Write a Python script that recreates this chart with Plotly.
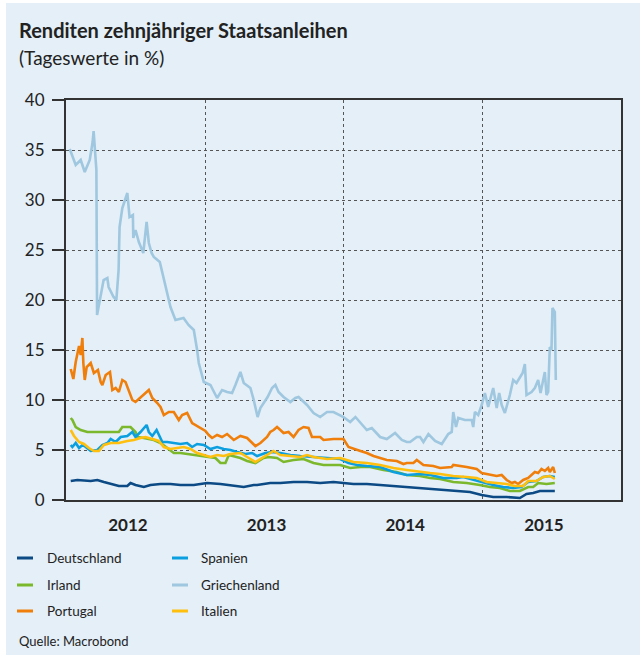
import plotly.graph_objects as go
import pandas as pd

# ---------------- data (x = years since 2012-01-01, y = yield in %) ----------------
GR_t = [0.027,0.048,0.070,0.106,0.135,0.171,0.192,0.199,0.219,0.224,0.250,0.271,0.298,0.307,0.343,0.363,0.379,0.386,0.406,0.424,
        0.442,0.458,0.482,0.485,0.501,0.525,0.557,0.581,0.597,0.617,0.633,0.676,0.694,0.729,0.753,0.789,0.847,0.883,0.921,0.945,
        0.957,0.993,1.041,1.089,1.125,1.161,1.197,1.221,1.257,1.281,1.329,1.353,1.381,1.401,1.453,1.485,1.509,1.532,1.568,1.617,
        1.653,1.676,1.737,1.784,1.832,1.881,1.928,2.000,2.048,2.086,2.122,2.168,2.204,2.264,2.312,2.372,2.420,2.456,2.480,2.528,
        2.552,2.576,2.612,2.660,2.708,2.755,2.780,2.791,2.811,2.827,2.875,2.924,2.935,2.947,2.971,2.996,3.019,3.043,3.079,3.104,
        3.122,3.140,3.163,3.199,3.223,3.247,3.291,3.307,3.319,3.355,3.379,3.403,3.420,3.451,3.463,3.475,3.487,3.499,3.506,3.523,
        3.530]
GR_v = [35.1,34.2,33.5,34.0,32.8,34.0,35.8,36.9,33.0,18.5,20.5,22.0,22.2,21.3,20.3,20.0,23.0,27.3,29.2,30.0,
        30.7,28.3,28.5,26.2,27.0,25.8,24.7,27.8,25.7,24.7,24.3,23.8,22.7,20.7,19.3,18.0,18.2,17.5,17.0,15.0,
        13.7,11.8,11.5,10.2,11.0,10.8,10.7,11.5,12.8,11.7,11.2,10.0,8.3,9.2,10.3,11.2,11.5,10.8,10.3,9.8,
        10.2,10.3,9.5,8.7,8.3,8.8,8.8,8.3,7.8,8.3,7.7,7.0,7.2,6.3,6.1,6.7,6.0,5.8,5.8,6.3,
        6.3,5.8,6.6,5.9,5.6,6.6,6.8,8.8,7.3,8.2,8.0,8.0,7.3,8.8,8.5,9.5,10.7,9.3,11.2,9.2,
        10.7,9.5,8.7,10.5,12.0,11.7,12.7,13.6,10.5,10.8,11.2,12.0,10.7,12.8,10.5,10.8,15.3,15.0,19.2,18.8,
        12.0]

PT_t = [0.034,0.053,0.070,0.082,0.094,0.106,0.118,0.125,0.135,0.149,0.178,0.201,0.230,0.250,0.262,0.286,0.317,0.334,0.358,0.381,
        0.406,0.429,0.453,0.478,0.501,0.537,0.573,0.597,0.622,0.658,0.681,0.705,0.741,0.777,0.813,0.837,0.873,0.909,0.933,0.969,
        1.005,1.029,1.053,1.089,1.125,1.161,1.209,1.257,1.305,1.365,1.401,1.449,1.472,1.496,1.521,1.545,1.568,1.604,1.640,1.676,
        1.712,1.748,1.773,1.832,1.856,1.928,2.000,2.036,2.072,2.122,2.168,2.216,2.264,2.312,2.384,2.432,2.456,2.504,2.528,2.576,
        2.647,2.696,2.780,2.791,2.888,2.960,2.996,3.043,3.104,3.140,3.176,3.212,3.235,3.259,3.295,3.331,3.355,3.379,3.403,3.427,
        3.451,3.475,3.487,3.511,3.523]
PT_v = [13.1,12.1,13.8,14.7,15.4,14.5,16.2,13.7,12.0,13.3,13.7,12.7,13.0,11.8,11.5,12.5,12.8,11.0,11.2,10.8,
        12.0,11.8,11.0,10.0,9.8,10.3,10.7,11.0,10.2,9.7,9.3,8.5,8.8,8.8,8.0,8.5,8.7,7.7,7.5,7.2,
        6.9,6.5,6.2,6.5,6.3,6.6,6.0,6.4,6.2,5.4,5.7,6.3,6.8,7.0,7.3,7.0,6.7,6.8,6.3,7.0,
        7.3,7.2,6.3,6.3,6.0,6.1,6.1,5.3,5.1,4.9,4.7,4.4,4.2,4.0,3.9,3.6,3.7,3.7,4.0,3.5,
        3.4,3.2,3.3,3.5,3.3,3.1,2.7,2.6,2.4,2.5,2.0,1.7,1.8,1.6,2.0,2.2,2.5,2.8,2.7,3.1,
        2.9,3.2,2.8,3.3,2.7]

ES_t = [0.034,0.046,0.070,0.094,0.118,0.142,0.178,0.226,0.262,0.298,0.322,0.358,0.394,0.442,0.478,0.501,0.537,0.561,0.581,0.597,
        0.622,0.653,0.676,0.694,0.729,0.777,0.825,0.873,0.909,0.945,0.993,1.041,1.089,1.137,1.185,1.233,1.293,1.341,1.377,1.437,
        1.485,1.545,1.617,1.689,1.784,1.881,1.976,2.036,2.098,2.168,2.264,2.360,2.456,2.552,2.624,2.719,2.816,2.863,2.935,2.996,
        3.079,3.151,3.223,3.283,3.331,3.391,3.439,3.487,3.523]
ES_v = [5.5,5.3,5.7,5.2,5.5,5.3,4.9,5.0,5.5,5.7,6.1,5.8,6.3,6.4,6.8,6.3,6.8,7.2,7.5,6.8,
        6.4,7.0,6.3,5.8,5.8,5.7,5.6,5.7,5.3,5.6,5.5,5.1,5.3,5.1,5.0,4.8,4.6,4.7,4.4,4.7,
        4.8,4.7,4.5,4.4,4.3,4.2,4.1,3.7,3.5,3.4,3.3,2.8,2.5,2.6,2.5,2.2,2.2,2.3,2.0,1.8,
        1.5,1.3,1.2,1.3,1.8,1.9,2.3,2.4,2.3]

IT_t = [0.034,0.058,0.094,0.129,0.165,0.201,0.237,0.273,0.322,0.381,0.442,0.489,0.537,0.573,0.622,0.669,0.705,0.753,0.801,0.849,
        0.897,0.945,0.993,1.041,1.089,1.137,1.185,1.257,1.305,1.365,1.424,1.496,1.545,1.617,1.689,1.737,1.784,1.881,1.976,2.072,
        2.168,2.264,2.360,2.456,2.552,2.624,2.696,2.791,2.888,2.960,3.032,3.104,3.176,3.235,3.295,3.331,3.391,3.439,3.487,3.523]
IT_v = [7.0,6.4,5.8,5.6,5.2,4.9,4.9,5.5,5.7,5.7,5.9,6.0,6.2,6.3,6.1,5.9,5.3,5.1,5.2,5.3,
        5.1,4.7,4.5,4.3,4.5,4.4,4.6,4.7,4.3,3.8,4.3,4.9,4.5,4.4,4.3,4.5,4.3,4.1,4.2,3.8,
        3.7,3.5,3.2,3.0,2.8,2.7,2.6,2.4,2.3,2.2,1.8,1.7,1.6,1.4,1.4,1.9,1.9,2.3,2.4,2.1]

IE_t = [0.034,0.046,0.070,0.106,0.154,0.381,0.406,0.465,0.501,0.514,0.561,0.633,0.681,0.729,0.777,0.825,0.873,0.921,0.969,1.041,
        1.077,1.113,1.149,1.173,1.257,1.305,1.365,1.424,1.460,1.521,1.568,1.640,1.712,1.784,1.856,1.976,2.048,2.122,2.192,2.288,
        2.384,2.456,2.552,2.624,2.696,2.791,2.888,2.983,3.055,3.127,3.199,3.271,3.331,3.367,3.403,3.463,3.523]
IE_v = [8.2,8.0,7.3,7.0,6.8,6.8,7.3,7.3,6.8,6.3,6.2,6.0,5.7,5.2,4.7,4.7,4.6,4.5,4.4,4.2,
        4.2,3.7,3.7,4.5,4.2,3.9,3.7,4.2,4.3,4.2,3.8,4.0,4.1,3.7,3.5,3.5,3.2,3.3,3.3,3.0,
        2.8,2.5,2.4,2.2,2.1,1.8,1.7,1.5,1.3,1.2,0.9,0.9,1.3,1.3,1.7,1.6,1.7]

DE_t = [0.034,0.082,0.178,0.226,0.273,0.322,0.381,0.442,0.465,0.501,0.561,0.609,0.681,0.753,0.825,0.921,1.017,1.113,1.185,1.281,
        1.353,1.377,1.472,1.545,1.640,1.737,1.832,1.928,2.072,2.168,2.264,2.360,2.456,2.552,2.624,2.719,2.816,2.912,2.996,3.079,
        3.176,3.271,3.319,3.367,3.415,3.463,3.523]
DE_v = [1.9,2.0,1.9,2.0,1.8,1.6,1.4,1.4,1.7,1.5,1.3,1.5,1.6,1.6,1.5,1.5,1.7,1.6,1.5,1.3,
        1.5,1.5,1.7,1.7,1.8,1.8,1.7,1.8,1.6,1.6,1.5,1.4,1.3,1.2,1.1,1.0,0.9,0.8,0.5,0.3,
        0.3,0.2,0.6,0.7,0.9,0.9,0.9]

YEAR_LABELS = ["2012", "2013", "2014", "2015"]
YEAR_LABEL_POS = ["2012-06-12", "2013-06-12", "2014-06-12", "2015-06-12"]
YEAR_BOUNDS = ["2013-01-01", "2014-01-01", "2015-01-01"]
Y_TICKS = [0, 5, 10, 15, 20, 25, 30, 35, 40]

SERIES = [  # name, t, v, color
    ("Griechenland", GR_t, GR_v, "#9fc7df"),
    ("Portugal", PT_t, PT_v, "#f07e0b"),
    ("Irland", IE_t, IE_v, "#7cb82c"),
    ("Spanien", ES_t, ES_v, "#0c9fe0"),
    ("Italien", IT_t, IT_v, "#ffbf0f"),
    ("Deutschland", DE_t, DE_v, "#0b4a84"),
]
COLORS = {n: c for n, _, _, c in SERIES}
LEGEND_ROWS = [("Deutschland", "Spanien"), ("Irland", "Griechenland"), ("Portugal", "Italien")]

BASE = pd.Timestamp("2012-01-01")


def to_dates(ts):
    return [BASE + pd.to_timedelta(t * 365.25, unit="D") for t in ts]


BG = "#e4eff7"
TXT = "#222222"
FONT = "Lato, Liberation Sans, sans-serif"

fig = go.Figure()
for name, t, v, color in SERIES:
    assert len(t) == len(v), name
    fig.add_trace(go.Scatter(x=to_dates(t), y=v, mode="lines", name=name,
                             line=dict(color=color, width=2.6), showlegend=False,
                             hoverinfo="skip"))

W, H = 640, 655
ML, MR, MT, MB = 66, 19, 100, 155
PW, PH = W - ML - MR, H - MT - MB


def px(x):
    return (x - ML) / PW


def py(y):
    return (H - MB - y) / PH


annotations = [
    dict(text="Renditen zehnjähriger Staatsanleihen", x=px(18), y=py(30), xanchor="left", yanchor="middle",
         font=dict(family=FONT, size=20, color=TXT, weight="bold")),
    dict(text="(Tageswerte in %)", x=px(18), y=py(57), xanchor="left", yanchor="middle",
         font=dict(family=FONT, size=19, color=TXT)),
    dict(text="Quelle: Macrobond", x=px(18), y=py(641), xanchor="left", yanchor="middle",
         font=dict(family=FONT, size=13, color=TXT)),
]
shapes = [
    dict(type="rect", xref="paper", yref="paper", x0=px(0), x1=px(6), y0=py(H), y1=py(0),
         fillcolor="white", line=dict(width=0), layer="below"),
    dict(type="rect", xref="paper", yref="paper", x0=px(0), x1=px(W), y0=py(3), y1=py(0),
         fillcolor="white", line=dict(width=0), layer="below"),
]
row_y = [558, 585, 611]
col_swatch = [(17, 33), (172, 188)]
col_text = [46, 200]
for r, pair in enumerate(LEGEND_ROWS):
    for c, name in enumerate(pair):
        shapes.append(dict(type="line", xref="paper", yref="paper",
                           x0=px(col_swatch[c][0]), x1=px(col_swatch[c][1]), y0=py(row_y[r]), y1=py(row_y[r]),
                           line=dict(color=COLORS[name], width=3)))
        annotations.append(dict(text=name, x=px(col_text[c]), y=py(row_y[r]), xanchor="left", yanchor="middle",
                                font=dict(family=FONT, size=13.5, color=TXT)))
for a in annotations:
    a.update(xref="paper", yref="paper", showarrow=False, borderpad=0)

fig.update_layout(
    width=W, height=H,
    margin=dict(l=ML, r=MR, t=MT, b=MB, pad=0),
    paper_bgcolor=BG, plot_bgcolor=BG,
    annotations=annotations, shapes=shapes,
    showlegend=False,
    xaxis=dict(type="date", range=["2012-01-01", "2016-01-01"],
               tickmode="array", tickvals=YEAR_LABEL_POS, ticktext=YEAR_LABELS,
               tickfont=dict(family=FONT, size=17, color=TXT, weight="bold"),
               ticks="", showgrid=False, zeroline=False,
               showline=True, linecolor="#333333", linewidth=2, mirror=True,
               ticklabelstandoff=9,
               minor=dict(tickmode="array", tickvals=YEAR_BOUNDS, showgrid=True,
                          gridcolor="#555555", griddash="dot", gridwidth=1, ticks="")),
    yaxis=dict(range=[0, 40], tickmode="array", tickvals=Y_TICKS,
               tickfont=dict(family=FONT, size=17, color=TXT),
               ticks="outside", ticklen=12, tickwidth=2, tickcolor="#333333",
               showgrid=True, gridcolor="#555555", griddash="dot", gridwidth=1,
               zeroline=False, showline=True, linecolor="#333333", linewidth=2, mirror=True,
               ticklabelstandoff=4),
)

fig.write_html("out.html", config={"displayModeBar": False},
               post_script="document.body.style.margin='0';")
